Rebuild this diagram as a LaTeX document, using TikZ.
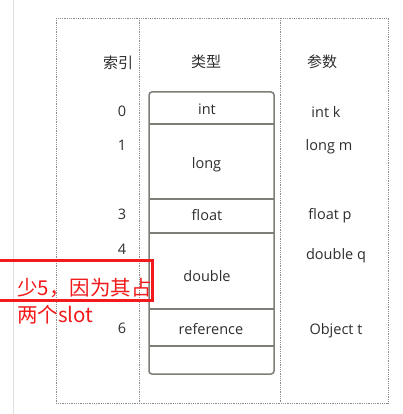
\documentclass[tikz,border=0pt]{standalone}
\usepackage{fontspec}
\setmainfont{Open Sans}
\newfontfamily\cjk{Noto Sans CJK SC}
\definecolor{ink}{HTML}{2E2E2E}
\definecolor{framegray}{HTML}{8C8C8C}
\definecolor{rulegray}{HTML}{7E7D78}
\definecolor{pageline}{HTML}{D9E0E6}
\definecolor{notered}{HTML}{F21A1A}
\begin{document}
\begin{tikzpicture}[x=1pt,y=-1pt,
  every node/.style={inner sep=0pt, text=ink,
    font=\fontsize{14.5}{17}\selectfont},
  head/.style={font=\cjk\fontsize{15}{18}\selectfont},
  idx/.style={anchor=base},
  typ/.style={anchor=base},
  prm/.style={anchor=base},
  dotline/.style={framegray, line width=0.9pt, dash pattern=on 0.9pt off 0.9pt},
  slotline/.style={rulegray, line width=1.5pt},
  notebox/.style={notered, line width=3pt},
  notetext/.style={anchor=west, text=notered,
    font=\cjk\fontsize{20.5}{24}\selectfont}]
\fill[white] (0,0) rectangle (403,414);
\useasboundingbox (0,0) rectangle (403,414);
\draw[pageline, line width=1pt] (13,0) -- (13,414);
\draw[dotline] (56,18) rectangle (388,403);
\draw[dotline] (139,18) -- (139,403);
\draw[dotline] (280,18) -- (280,403);
\node[head] (hidx) at (118,62.5) {索引};
\node[head] (htyp) at (206,62) {类型};
\node[head] (hprm) at (322,62) {参数};
\draw[slotline, rounded corners=3pt] (149,92) rectangle (274,374);
\foreach \y in {124,199,233,309,346}
  \draw[slotline] (149,\y) -- (274,\y);
\foreach \n/\y in {0/117,1/150,3/219,4/254,6/333}
  \node[idx] (i\n) at (122,\y) {\n};
\node[typ] (tint) at (207,115) {int};
\node[typ] (tlong) at (206.5,168) {long};
\node[typ] (tfloat) at (207,220) {float};
\node[typ] (tdouble) at (207,281.5) {double};
\node[typ] (tref) at (211,334) {reference};
\node[prm] (pk) at (326,118) {int k};
\node[prm] (pm) at (329,150) {long m};
\node[prm] (pp) at (330,219) {float p};
\node[prm] (pq) at (336,259) {double q};
\node[prm] (pt) at (336,334) {Object t};
\draw[notebox] (-5,260.5) rectangle (152,300);
\node[notetext] (note1) at (17,287.5) {少5，因为其占};
\node[notetext] (note2) at (17,315) {两个slot};
\end{tikzpicture}
\end{document}
